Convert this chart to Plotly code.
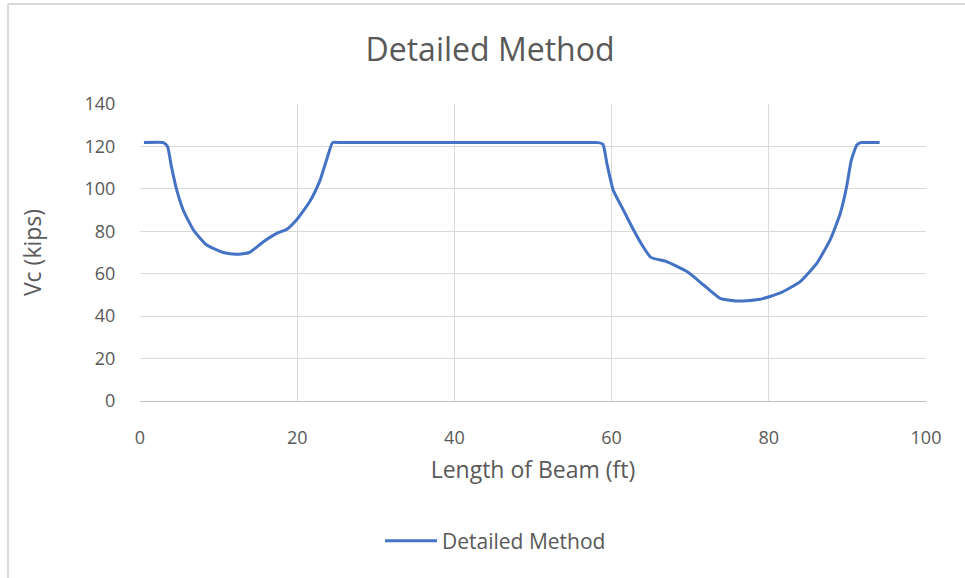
import plotly.graph_objects as go

length_ft = [0.5, 2.97, 3.5, 4.0, 4.67, 5.5, 6.8, 8.5, 10.6, 12.3, 13.9,
             15.7, 17.4, 18.7, 19.9, 21.6, 22.9, 24.0, 24.5, 25.5,
             30.0, 40.0, 50.0, 57.3, 58.3, 58.9, 59.4, 60.2, 61.5, 62.8, 64.0, 65.0,
             67.0, 69.6, 71.7, 73.8, 76.3, 78.9, 81.4, 84.0, 86.1, 87.8,
             89.1, 89.9, 90.5, 91.2, 91.7, 92.7, 94.1]
vc_kips = [121.8, 121.8, 120.0, 110.5, 99.5, 90.0, 80.6, 73.5, 70.0, 69.2, 70.0,
           75.1, 79.0, 81.0, 85.3, 94.0, 104.0, 116.8, 121.8, 121.8,
           121.8, 121.8, 121.8, 121.8, 121.8, 121.0, 112.0, 99.5, 90.0, 80.6, 72.8, 67.7,
           65.7, 61.0, 54.7, 48.4, 47.1, 48.0, 50.8, 56.3, 64.9, 75.9,
           88.5, 101.0, 113.6, 120.7, 121.8, 121.8, 121.8]

x_ticks = [0, 20, 40, 60, 80, 100]
y_ticks = [0, 20, 40, 60, 80, 100, 120, 140]

FONT = "Open Sans"
TXT = "#595959"

fig = go.Figure()
fig.add_trace(go.Scatter(
    x=length_ft, y=vc_kips, mode="lines", name="Detailed Method",
    line=dict(color="#4472C4", width=3, shape="spline", smoothing=0.5),
))

fig.update_layout(
    width=965, height=578,
    margin=dict(l=140, r=39, t=104, b=177),
    paper_bgcolor="white", plot_bgcolor="white",
    font=dict(family=FONT, color=TXT, size=18),
    title=dict(text="Detailed Method", x=490/965, xref="container", xanchor="center",
               y=1 - 50/578, yref="container", yanchor="middle",
               font=dict(size=32, color=TXT, family=FONT)),
    showlegend=True,
    legend=dict(orientation="h", x=(380-140)/786, xanchor="left",
                y=(401-541)/297, yanchor="middle", yref="paper",
                font=dict(size=21, color=TXT), itemwidth=52),
    xaxis=dict(range=[0, 100], tickvals=x_ticks, showgrid=True, gridcolor="#d9d9d9",
               gridwidth=1, showline=True, linecolor="#bfbfbf", linewidth=1,
               ticks="outside", ticklen=20, tickcolor="rgba(0,0,0,0)",
               zeroline=False, tickfont=dict(size=18, color=TXT),
               title=dict(text="Length of Beam (ft)", standoff=14,
                          font=dict(size=23, color=TXT))),
    yaxis=dict(range=[0, 140], tickvals=y_ticks, showgrid=True, gridcolor="#d9d9d9",
               gridwidth=1, showline=False, zeroline=False,
               ticks="outside", ticklen=20, tickcolor="rgba(0,0,0,0)",
               tickfont=dict(size=18, color=TXT),
               title=dict(text="Vc (kips)", standoff=36,
                          font=dict(size=23, color=TXT))),
    shapes=[
        dict(type="line", xref="paper", yref="paper", x0=(8-140)/786, x1=(8-140)/786,
             y0=(401-600)/297, y1=(401-4)/297, line=dict(color="#d9d9d9", width=2)),
        dict(type="line", xref="paper", yref="paper", x0=(8-140)/786, x1=(1000-140)/786,
             y0=(401-4)/297, y1=(401-4)/297, line=dict(color="#d9d9d9", width=2)),
    ],
)

fig.write_html("out.html")
